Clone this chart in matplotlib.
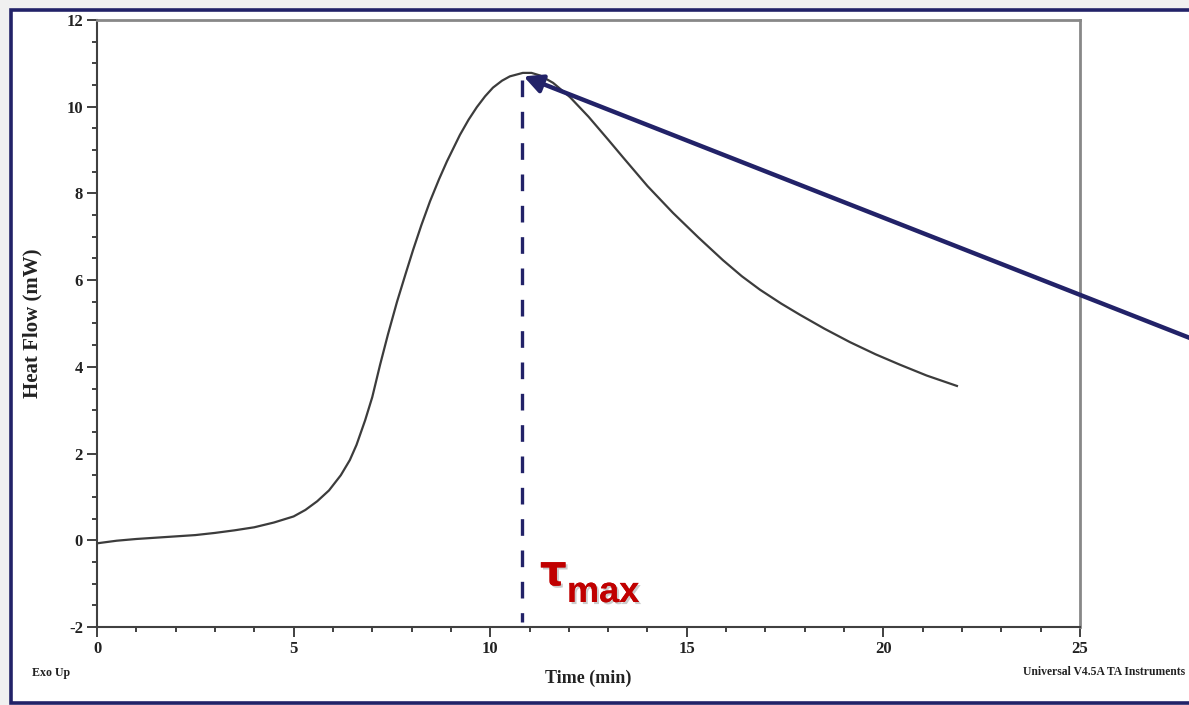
import matplotlib
matplotlib.use("Agg")
import matplotlib.pyplot as plt
from matplotlib.patches import Rectangle
from matplotlib.ticker import MultipleLocator
import matplotlib.patheffects as pe

plt.rcParams["axes.unicode_minus"] = False

# Data
time_min = [0.0, 0.5, 1.0, 1.5, 2.0, 2.5, 3.0, 3.5, 4.0, 4.5, 5.0, 5.3, 5.6, 5.9,
            6.2, 6.43, 6.6, 6.82, 7.0, 7.2, 7.4, 7.63, 7.85, 8.04, 8.25, 8.47,
            8.7, 8.9, 9.23, 9.45, 9.66, 9.87, 10.07, 10.3, 10.5, 10.83, 11.05,
            11.27, 11.6, 12.03, 12.5, 13.0, 13.38, 14.0, 14.65, 15.3, 15.92,
            16.4, 16.86, 17.4, 17.88, 18.5, 19.15, 19.8, 20.42, 21.1, 21.87]
heat_flow = [-0.07, -0.01, 0.03, 0.06, 0.09, 0.12, 0.17, 0.23, 0.30, 0.41, 0.55,
             0.70, 0.90, 1.15, 1.50, 1.85, 2.20, 2.77, 3.30, 4.05, 4.75, 5.50,
             6.15, 6.70, 7.27, 7.82, 8.33, 8.74, 9.35, 9.70, 9.99, 10.24, 10.44,
             10.60, 10.70, 10.78, 10.78, 10.72, 10.55, 10.22, 9.77, 9.24, 8.83,
             8.17, 7.55, 6.98, 6.46, 6.09, 5.78, 5.46, 5.20, 4.88, 4.57, 4.29,
             4.05, 3.80, 3.56]

tau_max = 10.82
peak_value = 10.72
x_ticks = [0, 5, 10, 15, 20, 25]
y_ticks = [-2, 0, 2, 4, 6, 8, 10, 12]

NAVY = "#222268"
RED = "#c00000"
SERIF = "Liberation Serif"

fig = plt.figure(figsize=(11.89, 7.05), dpi=100)
fig.patch.set_facecolor("#f0f0f0")

W, H = 1189.0, 705.0
frame = Rectangle((10.5 / W, 2.5 / H), 1.2, (H - 9.5 - 2.5) / H,
                  transform=fig.transFigure, facecolor="white",
                  edgecolor=NAVY, linewidth=2.6, zorder=-10, clip_on=False)
fig.patches.append(frame)

ax = fig.add_axes([97 / W, 1 - 627 / H, (1080 - 97) / W, (627 - 20) / H])
ax.set_facecolor("none")
ax.set_zorder(2)

ax.plot(time_min, heat_flow, color="#3c3c3c", lw=1.6, zorder=3)

# dashed tau_max line
ax.plot([tau_max, tau_max], [peak_value - 0.1, -1.88], color=NAVY, lw=2.4,
        dashes=(5, 4.4), zorder=4)

ax.set_xlim(0, 25)
ax.set_ylim(-2, 12)
ax.set_xticks(x_ticks)
ax.set_yticks(y_ticks)
ax.xaxis.set_minor_locator(MultipleLocator(1))
ax.yaxis.set_minor_locator(MultipleLocator(0.5))
ax.tick_params(which="major", direction="out", length=7, width=1.4,
               color="#404040", labelsize=12, pad=3)
ax.tick_params(which="minor", direction="out", length=3.5, width=1.4,
               color="#404040")
ax.tick_params(top=False, right=False, which="both")
for lab in ax.get_xticklabels() + ax.get_yticklabels():
    lab.set_fontfamily(SERIF)
    lab.set_fontweight("bold")
    lab.set_color("#222222")

for side in ["left", "bottom"]:
    ax.spines[side].set_color("#404040")
    ax.spines[side].set_linewidth(1.5)
for side in ["top", "right"]:
    ax.spines[side].set_color("#888888")
    ax.spines[side].set_linewidth(2.0)

ax.set_xlabel("Time (min)", fontfamily=SERIF, fontweight="bold",
              fontsize=13, color="#222222", labelpad=9)
ax.set_ylabel("Heat Flow (mW)", fontfamily=SERIF, fontweight="bold",
              fontsize=15, color="#222222", labelpad=17)

fig.text(32 / W, 1 - 673 / H, "Exo Up", fontfamily=SERIF, fontweight="bold",
         fontsize=8.6, color="#222222", va="center", ha="left")
fig.text(1185 / W, 1 - 672 / H, "Universal V4.5A TA Instruments",
         fontfamily=SERIF, fontweight="bold", fontsize=8.4, color="#222222",
         va="center", ha="right")

# tau_max label
shadow = [pe.withSimplePatchShadow(offset=(1.5, -1.5), shadow_rgbFace="#999999",
                                   alpha=0.5), pe.Normal()]
fig.text(540 / W, 1 - 585 / H, "τ", fontfamily="DejaVu Sans",
         fontweight="bold", fontsize=30, color=RED, ha="left",
         va="baseline", path_effects=shadow)
fig.text(567 / W, 1 - 602 / H, "max", fontfamily="Liberation Sans",
         fontweight="bold", fontsize=26, color=RED, ha="left",
         va="baseline", path_effects=shadow)

# arrow pointing to the peak
ax.annotate("", xy=(tau_max + 0.03, peak_value - 0.02), xycoords="data",
            xytext=(1195, H - 340), textcoords="figure pixels",
            arrowprops=dict(arrowstyle="-|>", color=NAVY, lw=3.2,
                            mutation_scale=28, shrinkA=0, shrinkB=0),
            annotation_clip=False, zorder=5)

fig.savefig("out.png", dpi=100, facecolor=fig.get_facecolor())
